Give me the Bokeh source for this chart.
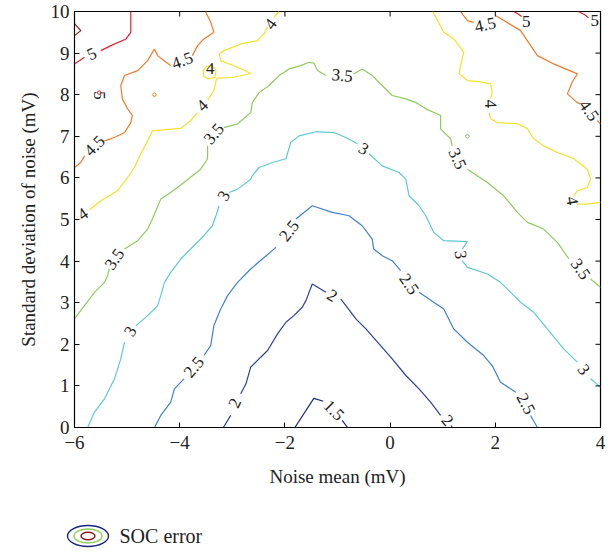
import numpy as np
from bokeh.plotting import figure
from bokeh.layouts import column
from bokeh.models import Range1d, FixedTicker
from bokeh.core.properties import value
from bokeh.embed import file_html
from bokeh.resources import INLINE

N = float("nan")

# ---- contour lines (x = noise mean mV, y = std of noise mV); NaN = gap under a label
c15_x = [-1.81, -1.45, -1.27, N, -0.91, -0.81]
c15_y = [0.00, 0.70, 0.63, N, 0.17, 0.00]

c20_x = [-3.17, -3.03, N, -2.84, -2.74, -2.65, -2.46, -2.33, -2.14, -1.98, -1.83, -1.67, -1.60, -1.48, -1.22, N,
         -0.94, -0.84, -0.65, -0.46, -0.21, 0.04, 0.30, 0.55, 0.77, 0.96, N, 1.16, 1.18]
c20_y = [0.00, 0.29, N, 0.81, 1.05, 1.45, 1.69, 1.85, 2.25, 2.53, 2.69, 2.89, 3.05, 3.45, 3.25, N,
         3.09, 2.93, 2.61, 2.37, 2.01, 1.65, 1.25, 0.93, 0.61, 0.29, N, 0.05, 0.00]

c25_x = [-4.48, -4.36, -4.17, -4.10, -3.92, N, -3.54, -3.41, -3.35, -3.22, -3.09, -2.90, -2.65, -2.43, -2.17, N,
         -1.79, -1.48, -1.10, -0.78, -0.53, -0.34, -0.31, -0.15, 0.04, 0.20, N,
         0.55, 0.83, 1.02, 1.21, 1.47, 1.78, 1.94, 2.10, 2.29, 2.39, N, 2.67, 2.80]
c25_y = [0.00, 0.29, 0.61, 0.93, 1.17, N, 1.73, 1.97, 2.45, 2.85, 3.17, 3.49, 3.81, 4.05, 4.33, N,
         5.01, 5.33, 5.17, 5.09, 4.85, 4.53, 4.29, 4.13, 4.01, 3.77, N,
         3.25, 3.01, 2.85, 2.37, 2.05, 1.73, 1.49, 1.09, 0.93, 0.85, N, 0.29, 0.00]

c30_x = [-5.75, -5.62, -5.43, -5.24, -5.12, -5.05, N, -4.83, -4.61, -4.42, -4.36, -4.29, -4.17, -3.98, -3.73, -3.54,
         -3.38, -3.31, -3.25, N, -3.06, -2.90, -2.65, -2.62, -2.49, -2.24, -1.98, -1.89, -1.73, -1.41, -1.07, -0.84,
         -0.62, N, -0.40, -0.15, 0.17, 0.30, 0.36, 0.55, 0.68, 0.83, 1.02, 1.47, 1.37, N,
         1.37, 1.47, 1.85, 2.10, 2.48, 2.73, 2.99, 3.30, 3.56, N, 3.81, 4.00]
c30_y = [0.00, 0.37, 0.69, 1.17, 1.65, 2.05, N, 2.45, 2.69, 2.93, 3.17, 3.49, 3.73, 4.05, 4.37, 4.61,
         4.85, 5.09, 5.33, N, 5.65, 5.73, 5.97, 6.05, 6.25, 6.37, 6.46, 6.85, 7.01, 7.11, 7.09, 6.97,
         6.82, N, 6.58, 6.29, 6.13, 5.97, 5.57, 5.33, 5.09, 4.69, 4.49, 4.47, 4.29, N,
         4.01, 3.85, 3.69, 3.49, 3.01, 2.77, 2.37, 1.89, 1.57, N, 1.17, 0.97]

c35_x = [-6.00, -5.81, -5.62, -5.43, -5.37, -5.34, N, -5.05, -4.80, -4.61, -4.52, -4.36, -4.17, -3.92, -3.60, -3.47,
         -3.47, N, -3.16, -2.90, -2.65, -2.62, -2.49, -2.30, -2.11, -1.92, -1.70, -1.54, -1.45, -1.38, -1.22, N,
         -0.69, -0.53, -0.34, -0.15, 0.04, 0.30, 0.49, 0.68, 0.96, 0.96, 1.15, 1.18, N,
         1.47, 1.85, 2.16, 2.42, 2.61, 2.92, 3.18, 3.40, N, 3.81, 4.00]
c35_y = [2.61, 2.93, 3.25, 3.49, 3.65, 3.81, N, 4.29, 4.49, 4.77, 5.01, 5.49, 5.65, 5.89, 6.21, 6.46,
         6.77, N, 7.21, 7.30, 7.57, 7.81, 8.05, 8.22, 8.46, 8.62, 8.70, 8.78, 8.76, 8.58, 8.46, N,
         8.50, 8.62, 8.46, 8.22, 7.98, 7.90, 7.81, 7.66, 7.50, 7.18, 6.94, 6.77, N,
         6.21, 5.89, 5.57, 5.17, 4.93, 4.77, 4.45, 4.05, N, 3.57, 3.37]

c40a_x = [-6.00, N, -5.72, -5.50, -5.18, -4.99, -4.86, -4.74, -4.61, -4.52, -3.98, -3.79, -3.66, N,
          -3.47, -3.35, -3.31, -3.28, -2.97, -2.65, -2.90, -3.22, -3.25, -3.16, -2.84, -2.52, -2.40, -2.33, N,
          -2.21, -2.11]
c40a_y = [5.02, N, 5.23, 5.45, 5.69, 6.01, 6.25, 6.58, 6.89, 7.13, 7.19, 7.38, 7.57, N,
          7.86, 8.10, 8.34, 8.40, 8.42, 8.51, 8.66, 8.82, 8.98, 9.06, 9.22, 9.30, 9.46, 9.62, N,
          9.86, 10.00]
c40b_x = [0.81, 1.02, 1.21, 1.40, 1.34, 1.31, 1.47, 1.72, 1.91, 1.94, 1.91, N,
          1.88, 1.91, 2.04, 2.42, 2.61, 2.73, 2.92, 3.18, 3.49, 3.75, 3.81, 3.75, 3.56, 3.49, N,
          3.56, 3.75, 4.00]
c40b_y = [10.00, 9.50, 9.34, 9.02, 8.70, 8.50, 8.34, 8.31, 8.26, 8.05, 7.90, N,
          7.57, 7.42, 7.33, 7.30, 7.18, 6.94, 6.77, 6.61, 6.46, 6.21, 5.97, 5.77, 5.69, 5.57, N,
          5.37, 5.37, 5.41]
c40c_x = [-3.56, -3.50, -3.39, -3.31, -3.33, -3.45, -3.54, -3.56]
c40c_y = [8.58, 8.67, 8.70, 8.58, 8.41, 8.38, 8.43, 8.58]

c45a_x = [-6.00, -5.88, -5.81, N, -5.43, -5.24, -5.05, -4.93, -4.90, -4.99, -5.09, -5.12, -5.05, -4.80, -4.61,
          -4.48, -4.42, -4.26, -4.17, N, -3.76, -3.66, -3.54, -3.35, -3.41, -3.51]
c45a_y = [6.25, 6.37, 6.53, N, 6.89, 6.97, 7.09, 7.33, 7.50, 7.66, 7.90, 8.22, 8.46, 8.58, 8.82,
          9.10, 8.94, 8.78, 8.70, N, 8.94, 9.18, 9.34, 9.50, 9.74, 10.00]
c45b_x = [1.34, 1.47, 1.59, N, 2.01, 2.48, 2.80, 3.11, 3.56, 3.46, 3.37, 3.56, 3.62, N, 3.94, 4.00]
c45b_y = [10.00, 9.78, 9.74, N, 9.90, 9.54, 8.94, 8.74, 8.50, 8.30, 8.02, 7.81, 7.78, N, 7.38, 7.30]

c50a_x = [-4.93, -4.93, -5.02, -5.31, -5.50, N, -5.81, -6.00]
c50a_y = [10.00, 9.50, 9.34, 9.18, 9.06, N, 8.90, 8.74]
c50b_x = [2.35, 2.42, 2.50]
c50b_y = [10.00, 9.95, 9.88]
c50c_x = [3.58, 3.70, 3.77]
c50c_y = [10.00, 9.92, 9.85]

c55_x = [-6.00, -5.88, -6.00]
c55_y = [9.71, 9.54, 9.42]

# tiny islands (single points)
isl_x = [-4.48, 1.47, -5.53]
isl_y = [8.00, 7.00, 8.05]
isl_level = ["4.5", "3.5", "5"]

# inline contour labels
lab_x = [-1.07, -2.95, -1.10, 1.09, -3.73, -1.92, 0.36, 2.58, -4.94, -3.16, -0.50, 1.34, 3.68,
         -5.24, -3.35, -0.91, 1.28, 3.62, -5.84, -3.57, -2.27, -3.42, 1.91, 3.46, -5.62, -3.95, 1.81, 3.78,
         -5.67, 2.59, 3.89, -5.53]
lab_y = [0.41, 0.59, 3.17, 0.17, 1.45, 4.73, 3.45, 0.57, 2.31, 5.57, 6.70, 4.15, 1.39,
         4.05, 7.06, 8.46, 6.46, 3.81, 5.13, 7.74, 9.70, 8.62, 7.78, 5.45, 6.77, 8.82, 9.68, 7.62,
         8.98, 9.76, 9.78, 7.98]
lab_text = ["1.5", "2", "2", "2", "2.5", "2.5", "2.5", "2.5", "3", "3", "3", "3", "3",
            "3.5", "3.5", "3.5", "3.5", "3.5", "4", "4", "4", "4", "4", "4", "4.5", "4.5", "4.5", "4.5",
            "5", "5", "5", "5"]
lab_rot = [-45, 65, -32, -50, 50, 52, -55, -62, 60, 60, -30, -85, -55,
           55, 50, -5, -65, -55, 35, 45, 55, 0, -88, -80, 45, 20, 12, -55,
           25, 0, 0, -90]

x_ticks = [-6, -4, -2, 0, 2, 4]
y_ticks = [0, 1, 2, 3, 4, 5, 6, 7, 8, 9, 10]

COL = {"1.5": "#1b2484", "2": "#2c3f9e", "2.5": "#3f80d0", "3": "#5fc9d2", "3.5": "#8fcb5c",
       "4": "#f1e326", "4.5": "#f47a28", "5": "#e2232b", "5.5": "#8c1c1c"}

SERIF = "Liberation Serif"
LEFT, RIGHT = 74, 9

p = figure(width=609, height=500, x_range=Range1d(-6, 4), y_range=Range1d(0, 10),
           output_backend="svg", toolbar_location=None,
           min_border_left=LEFT, min_border_right=RIGHT, min_border_top=11, min_border_bottom=73)
p.background_fill_color = "white"
p.border_fill_color = "white"
p.grid.visible = False
p.outline_line_color = "black"
p.outline_line_width = 1.2

lines = [(c15_x, c15_y, "1.5"), (c20_x, c20_y, "2"), (c25_x, c25_y, "2.5"), (c30_x, c30_y, "3"),
         (c35_x, c35_y, "3.5"), (c40a_x, c40a_y, "4"), (c40b_x, c40b_y, "4"), (c40c_x, c40c_y, "4"),
         (c45a_x, c45a_y, "4.5"), (c45b_x, c45b_y, "4.5"), (c50a_x, c50a_y, "5"), (c50b_x, c50b_y, "5"),
         (c50c_x, c50c_y, "5"), (c55_x, c55_y, "5.5")]
for xs, ys, lv in lines:
    p.line(xs, ys, line_color=COL[lv], line_width=1.2)

p.scatter(isl_x, isl_y, size=3.5, marker="circle", fill_color=None,
          line_color=[COL[l] for l in isl_level], line_width=1)

p.text(x=lab_x, y=lab_y, text=lab_text, angle=list(np.radians(lab_rot)),
       text_align="center", text_baseline="middle", text_font=value(SERIF),
       text_font_size="17px", text_color="#222222")

# mirrored inward ticks on the top and right edges (half of each dash is clipped by the frame)
p.scatter(x_ticks, [10] * len(x_ticks), marker="dash", size=10, angle=np.pi / 2,
          line_color="black", line_width=1)
p.scatter([4] * len(y_ticks), y_ticks, marker="dash", size=10, angle=0,
          line_color="black", line_width=1)

for ax in (p.xaxis[0], p.yaxis[0]):
    ax.major_tick_in = 5
    ax.major_tick_out = 0
    ax.minor_tick_line_color = None
    ax.axis_line_color = "black"
    ax.major_tick_line_color = "black"
    ax.major_label_text_font = SERIF
    ax.major_label_text_font_size = "19px"
    ax.major_label_text_color = "#222222"
    ax.axis_label_text_font = SERIF
    ax.axis_label_text_font_size = "19px"
    ax.axis_label_text_font_style = "normal"
    ax.axis_label_text_color = "#222222"

p.xaxis.ticker = FixedTicker(ticks=x_ticks)
p.yaxis.ticker = FixedTicker(ticks=y_ticks)
p.xaxis.major_label_overrides = {t: str(t).replace("-", "\u2212") for t in x_ticks}
p.xaxis.axis_label = "Noise mean (mV)"
p.yaxis.axis_label = "Standard deviation of noise (mV)"
p.xaxis.major_label_standoff = 8
p.yaxis.major_label_standoff = 5
p.xaxis.axis_label_standoff = 14
p.yaxis.axis_label_standoff = 9

# legend strip (nested ellipse icon + label), coordinates in page pixels
leg = figure(width=609, height=53, x_range=Range1d(0, 609), y_range=Range1d(0, 53),
             output_backend="svg", toolbar_location=None, min_border=0)
try:
    leg.frame_align = False
except Exception:
    pass
leg.axis.visible = False
leg.grid.visible = False
leg.outline_line_color = None
leg.border_fill_color = "white"
leg.ellipse(x=[87.5] * 3, y=[17.5] * 3, width=[41, 28, 14], height=[21, 14, 7.5],
            fill_color=None, line_color=[COL["1.5"], COL["3.5"], COL["5.5"]], line_width=1.4)
leg.text(x=[119], y=[17.5], text=["SOC error"], text_align="left", text_baseline="middle",
         text_font=value(SERIF), text_font_size="20px", text_color="#222222")

layout = column(p, leg, spacing=0)
open("out.html", "w").write(file_html(layout, INLINE))
